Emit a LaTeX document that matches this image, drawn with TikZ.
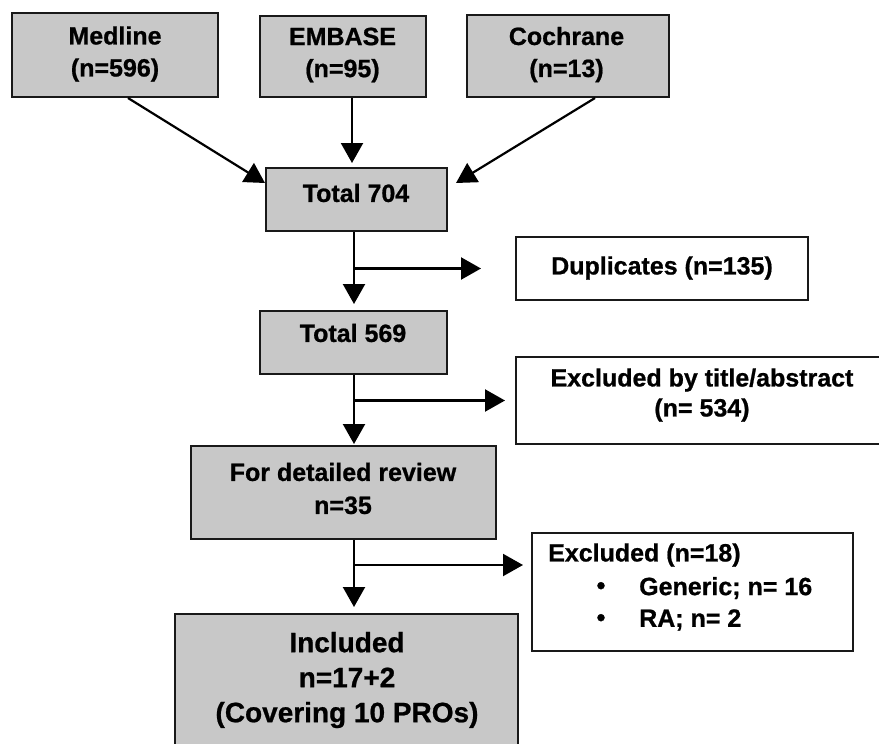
\documentclass[tikz,border=0pt]{standalone}
\usepackage{fontspec}
\setmainfont{Liberation Sans}[BoldFeatures={FakeBold=0.8}]
\usetikzlibrary{arrows.meta}
\definecolor{boxgray}{RGB}{200,200,200}
\definecolor{edgec}{RGB}{25,25,25}
\tikzset{
  gbox/.style={draw=edgec, line width=2pt, fill=boxgray, inner sep=0pt},
  wbox/.style={draw=edgec, line width=2pt, fill=white, inner sep=0pt},
  txt/.style={font=\bfseries\fontsize{25}{32}\selectfont, align=center, inner sep=0pt},
  bigtxt/.style={font=\bfseries\fontsize{28}{35}\selectfont, align=center, inner sep=0pt},
  arr/.style={draw=black, line width=2.2pt, -{Triangle[length=20pt,width=22pt]}}
}
\begin{document}
\begin{tikzpicture}[x=1pt,y=-1pt]
\useasboundingbox (0,0) rectangle (879,744);
% boxes
\node[gbox, minimum width=206pt, minimum height=84pt] (med) at (115,55) {};
\node[gbox, minimum width=166pt, minimum height=81pt] (emb) at (343,56.5) {};
\node[gbox, minimum width=202pt, minimum height=82pt] (coc) at (568,56) {};
\node[gbox, minimum width=181pt, minimum height=63pt] (t704) at (356.5,199.5) {};
\node[wbox, minimum width=292pt, minimum height=63pt] (dup) at (662,268.5) {};
\node[gbox, minimum width=187pt, minimum height=63pt] (t569) at (353.5,342.5) {};
\node[wbox, minimum width=368pt, minimum height=87pt] (ex1) at (700,400.5) {};
\node[gbox, minimum width=305pt, minimum height=93pt] (rev) at (343.5,492.5) {};
\node[wbox, minimum width=321pt, minimum height=118pt] (ex2) at (692.5,592) {};
\node[gbox, minimum width=343pt, minimum height=146pt] (inc) at (346.5,687) {};
% texts
\node[txt] (tmed) at (115,54) {Medline\\(n=596)};
\node[txt] (temb) at (342.5,55) {EMBASE\\(n=95)};
\node[txt] (tcoc) at (566.5,54.5) {Cochrane\\(n=13)};
\node[txt] (tt704) at (356,193) {Total 704};
\node[txt] (tdup) at (662,268) {Duplicates (n=135)};
\node[txt] (tt569) at (353,333) {Total 569};
\node[txt, font=\bfseries\fontsize{25}{30}\selectfont] (tex1) at (702,395) {Excluded by title/abstract\\(n= 534)};
\node[txt, font=\bfseries\fontsize{25}{33}\selectfont] (trev) at (343,488.5) {For detailed review\\n=35};
\node[txt, anchor=west] (tex2) at (548,555) {Excluded (n=18)};
\node[txt] (bul1) at (601,588) {•};
\node[txt] (bul2) at (601,620) {•};
\node[txt, anchor=west] (tgen) at (639,588) {Generic; n= 16};
\node[txt, anchor=west] (tra) at (639,620) {RA; n= 2};
\node[bigtxt] (tinc) at (347,680) {Included\\n=17+2\\(Covering 10 PROs)};
% connectors
\coordinate (col) at (354,0);
\coordinate (b3) at ([yshift=-33pt]ex2.north west);
\draw[arr] ([xshift=13pt]med.south) -- ([yshift=-16pt]t704.north west);
\draw[arr, shorten >=4pt] ([xshift=9pt]emb.south) -- ([xshift=9pt]emb.south |- t704.north);
\draw[arr] ([xshift=27pt]coc.south) -- ([xshift=8pt,yshift=-16pt]t704.north east);
\draw[arr, shorten >=6pt] (t704.south -| col) -- (t569.north -| col);
\draw[arr, shorten >=1pt] (t569.south -| col) -- (rev.north -| col);
\draw[arr, shorten >=6pt] (rev.south -| col) -- (inc.north -| col);
\draw[arr, shorten >=34pt] (col |- dup.west) -- (dup.west);
\draw[arr, shorten >=10pt] (col |- ex1.west) -- (ex1.west);
\draw[arr, shorten >=8pt] (col |- b3) -- (b3);
\end{tikzpicture}
\end{document}
